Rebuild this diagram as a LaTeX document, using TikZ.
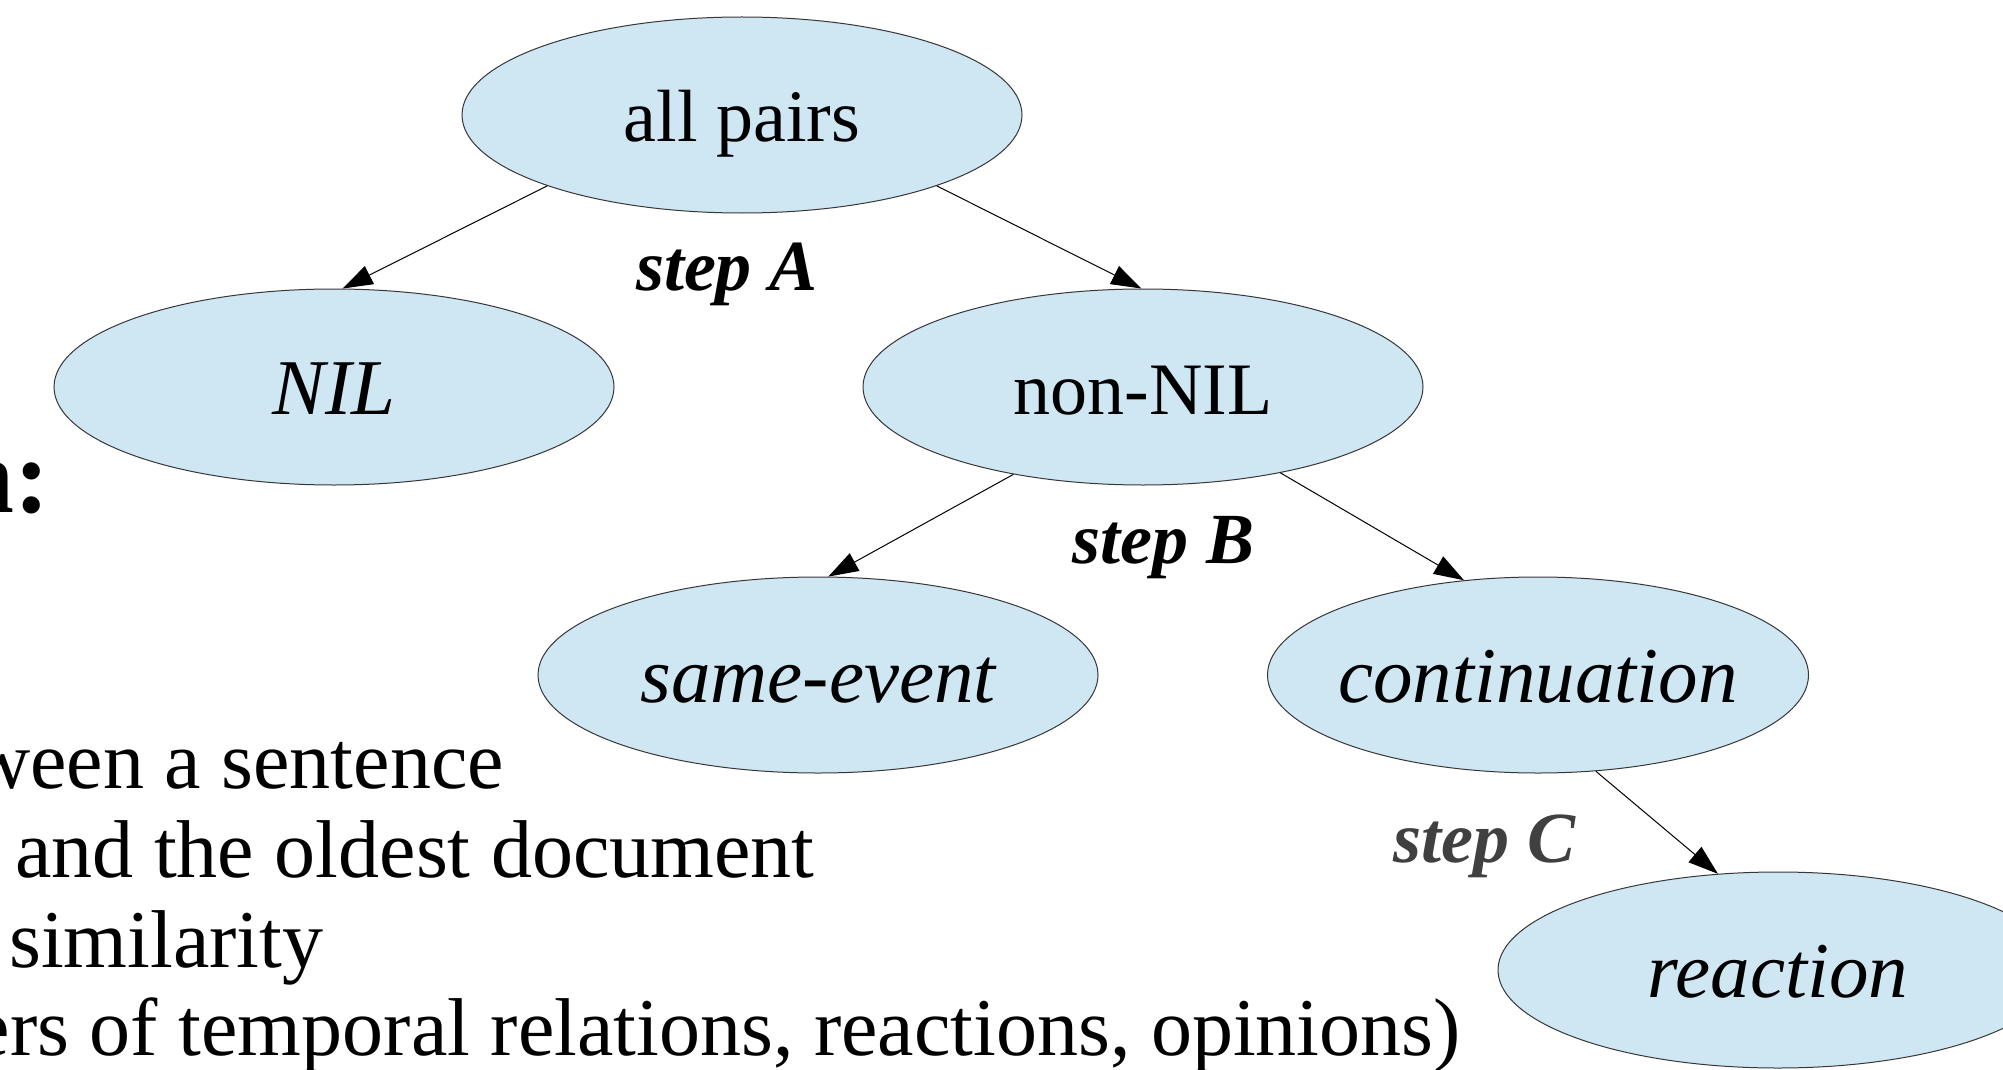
\documentclass[tikz,border=0pt]{standalone}
\usepackage{fontspec}
\setmainfont{Liberation Serif}
\usetikzlibrary{arrows.meta,shapes.geometric}
\definecolor{ellfill}{RGB}{207,230,243}
\definecolor{ellline}{RGB}{55,55,55}
\definecolor{stepc}{RGB}{64,64,64}
\begin{document}
\begin{tikzpicture}[x=1pt,y=-1pt,
  ell/.style={ellipse, draw=ellline, line width=1pt, fill=ellfill,
    minimum width=560pt, minimum height=196pt, inner sep=0pt,
    text height=54pt, text depth=0pt},
  uptext/.style={font=\fontsize{74}{80}\selectfont},
  ittext/.style={font=\fontsize{79}{85}\selectfont\itshape},
  steplbl/.style={font=\fontsize{72}{78}\selectfont\bfseries\itshape, anchor=base, inner sep=0pt},
  conn/.style={line width=1pt, -{Triangle[length=30pt,width=20pt]}},
  body/.style={font=\fontsize{82}{90}\selectfont, inner sep=0pt}
]
\clip (0,0) rectangle (2003,1070);
\fill[white] (0,0) rectangle (2003,1070);

% background slide text (clipped)
\node[font=\fontsize{106}{110}\selectfont\bfseries, inner sep=0pt, anchor=base east] (title) at (50,512) {n:};
\node[body,anchor=base east] (l1) at (504,788) {ween a sentence};
\node[body,anchor=base west] (l2) at (15,877) {and the oldest document};
\node[body,anchor=base west] (l3) at (9,967) {similarity};
\node[body,anchor=base east] (l4) at (1461,1055) {ers of temporal relations, reactions, opinions)};

% tree nodes
\node[ell,uptext] (all) at (742,115) {all pairs};
\node[ell,ittext] (nil) at (334,387) {NIL};
\node[ell,uptext] (non) at (1143,387) {non-NIL};
\node[ell,ittext] (same) at (818,675) {same-event};
\node[ell,ittext,minimum width=541pt,inner xsep=-20pt] (cont) at (1538,675) {continuation};
\node[ell,ittext] (reac) at (1778,970) {reaction};

% connectors
\draw[conn] (all.200.5) -- (nil.85.5);
\draw[conn] (all.-20.2) -- (non.91);
\draw[conn] (non.214.4) -- (same.84);
\draw[conn] (non.-32) -- (cont.128);
\draw[conn] (cont.-59.8) -- (reac.122.9);

% step labels
\node[steplbl] (sa) at (727,290) {step A};
\node[steplbl] (sb) at (1163,563) {step B};
\node[steplbl,text=stepc] (sc) at (1484,862) {step C};
\end{tikzpicture}
\end{document}
